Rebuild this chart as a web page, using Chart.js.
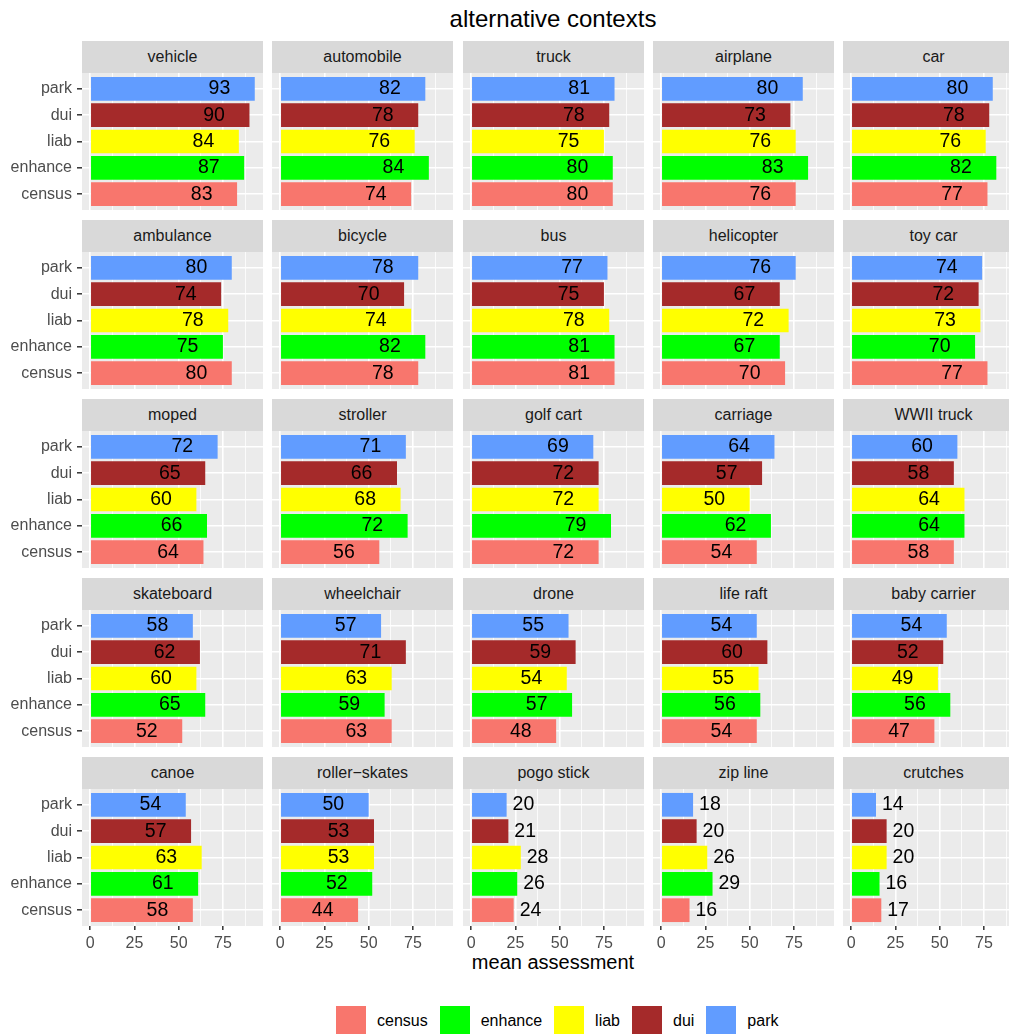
<!DOCTYPE html>
<html>
<head>
<meta charset="utf-8">
<title>alternative contexts</title>
<script src="https://cdn.jsdelivr.net/npm/chart.js@4.4.1/dist/chart.umd.min.js"></script>
<style>
body { margin: 0; background: #fff; }
#page { position: relative; width: 1009px; height: 1034px; overflow: hidden; font-family: "Liberation Sans", Arial, sans-serif; }
.strip { position: absolute; height: 32px; background: #D9D9D9; color: #1A1A1A; font-size: 16px; line-height: 32px; text-align: center; white-space: nowrap; }
canvas { position: absolute; }
#title { position: absolute; left: 82px; width: 942px; top: 7px; font-size: 24px; line-height: 24px; text-align: center; color: #000; }
#xtitle { position: absolute; left: 82px; width: 942px; top: 952px; font-size: 20px; line-height: 20px; text-align: center; color: #000; }
#legend { position: absolute; left: 336px; top: 1006px; height: 30px; display: flex; font-size: 16px; line-height: 30px; color: #000; }
#legend .key { width: 30px; height: 30px; margin-right: 11px; }
#legend .lab { margin-right: 12px; }
</style>
</head>
<body>
<div id="page">
  <div id="title">alternative contexts</div>
  <div id="xtitle">mean assessment</div>
  <div id="legend"></div>
</div>
<script>
// facet names, row by row
var panels = ['vehicle', 'automobile', 'truck', 'airplane', 'car',
              'ambulance', 'bicycle', 'bus', 'helicopter', 'toy car',
              'moped', 'stroller', 'golf cart', 'carriage', 'WWII truck',
              'skateboard', 'wheelchair', 'drone', 'life raft', 'baby carrier',
              'canoe', 'roller\u2212skates', 'pogo stick', 'zip line', 'crutches'];

// bottom to top inside a panel, same as the legend
var categories = ['census', 'enhance', 'liab', 'dui', 'park'];

var park    = [93, 82, 81, 80, 80,  80, 78, 77, 76, 74,  72, 71, 69, 64, 60,  58, 57, 55, 54, 54,  54, 50, 20, 18, 14];
var dui     = [90, 78, 78, 73, 78,  74, 70, 75, 67, 72,  65, 66, 72, 57, 58,  62, 71, 59, 60, 52,  57, 53, 21, 20, 20];
var liab    = [84, 76, 75, 76, 76,  78, 74, 78, 72, 73,  60, 68, 72, 50, 64,  60, 63, 54, 55, 49,  63, 53, 28, 26, 20];
var enhance = [87, 84, 80, 83, 82,  75, 82, 81, 67, 70,  66, 72, 79, 62, 64,  65, 59, 57, 56, 56,  61, 52, 26, 29, 16];
var census  = [83, 74, 80, 76, 77,  80, 78, 81, 70, 77,  64, 56, 72, 54, 58,  52, 63, 48, 54, 47,  58, 44, 24, 16, 17];

var xTicks = [0, 25, 50, 75];

var colours = ['#F8766D', '#00FF00', '#FFFF00', '#A52A2A', '#619CFF'];

Chart.defaults.font.family = '"Liberation Sans", Arial, sans-serif';

var page = document.getElementById('page');

// grey panel background
var panelBg = {
    id: 'panelBg',
    beforeDraw: function (chart) {
        var a = chart.chartArea;
        chart.ctx.save();
        chart.ctx.fillStyle = '#EBEBEB';
        chart.ctx.fillRect(a.left, a.top, a.right - a.left, a.bottom - a.top);
        chart.ctx.restore();
    }
};

// numbers on the bars (inside when long, outside when short)
var valueLabels = {
    id: 'valueLabels',
    afterDatasetsDraw: function (chart) {
        var ctx = chart.ctx;
        var xs = chart.scales.x, ys = chart.scales.y;
        ctx.save();
        ctx.font = '19.5px "Liberation Sans", Arial, sans-serif';
        ctx.fillStyle = '#000';
        ctx.textAlign = 'center';
        ctx.textBaseline = 'middle';
        chart.data.datasets[0].data.forEach(function (pt) {
            var pos = pt.x >= 30 ? pt.x - 20 : pt.x + 9.5;
            ctx.fillText(String(pt.x), xs.getPixelForValue(pos), ys.getPixelForValue(pt.y));
        });
        ctx.restore();
    }
};

function isMajor(v) {
    return xTicks.indexOf(v) !== -1;
}

function makePanel(p) {
    var col = p % 5, row = Math.floor(p / 5);
    var left = Math.round(82 + col * 190.3);
    var top = Math.round(41 + row * 179);
    var yAxisW = col === 0 ? 82 : 0;
    var xAxisH = row === 4 ? 26 : 0;

    var strip = document.createElement('div');
    strip.className = 'strip';
    strip.style.left = left + 'px';
    strip.style.top = top + 'px';
    strip.style.width = '181px';
    strip.textContent = panels[p];
    page.appendChild(strip);

    var cv = document.createElement('canvas');
    cv.width = 181 + yAxisW;
    cv.height = 137 + xAxisH;
    cv.style.left = (left - yAxisW) + 'px';
    cv.style.top = (top + 32) + 'px';
    cv.style.width = cv.width + 'px';
    cv.style.height = cv.height + 'px';
    page.appendChild(cv);

    var vals = [census[p], enhance[p], liab[p], dui[p], park[p]];

    return new Chart(cv, {
        type: 'bar',
        data: {
            datasets: [{
                data: vals.map(function (v, i) { return { x: v, y: i }; }),
                backgroundColor: colours,
                borderWidth: 0,
                barPercentage: 0.9,
                categoryPercentage: 1
            }]
        },
        options: {
            indexAxis: 'y',
            responsive: false,
            animation: false,
            devicePixelRatio: 1,
            layout: { padding: 0, autoPadding: false },
            plugins: { legend: { display: false }, tooltip: { enabled: false } },
            scales: {
                x: {
                    type: 'linear',
                    min: -4.65,
                    max: 97.65,
                    offset: false,
                    afterBuildTicks: function (scale) {
                        var t = [];
                        xTicks.forEach(function (v) { t.push({ value: v }); t.push({ value: v + 12.5 }); });
                        scale.ticks = t;
                    },
                    // keep the panel exactly where the strip is
                    afterFit: function (scale) {
                        scale.height = xAxisH;
                        scale.paddingLeft = 0;
                        scale.paddingRight = 0;
                    },
                    border: { display: false },
                    grid: {
                        color: '#FFFFFF',
                        lineWidth: function (c) { return isMajor(c.tick.value) ? 1.6 : 0.8; },
                        drawTicks: row === 4,
                        tickLength: 4,
                        tickWidth: 1.5,
                        tickColor: function (c) { return isMajor(c.tick.value) ? '#333333' : 'rgba(0,0,0,0)'; }
                    },
                    ticks: {
                        display: row === 4,
                        autoSkip: false,
                        maxRotation: 0,
                        padding: 4,
                        color: '#4D4D4D',
                        font: { size: 16 },
                        callback: function (v) { return isMajor(v) ? String(v) : ''; }
                    }
                },
                y: {
                    type: 'linear',
                    min: -0.6,
                    max: 4.6,
                    offset: false,
                    afterBuildTicks: function (scale) {
                        scale.ticks = categories.map(function (c, i) { return { value: i }; });
                    },
                    afterFit: function (scale) {
                        scale.width = yAxisW;
                        scale.paddingTop = 0;
                        scale.paddingBottom = 0;
                    },
                    border: { display: false },
                    grid: {
                        color: '#FFFFFF',
                        lineWidth: 1.6,
                        offset: false,
                        drawTicks: col === 0,
                        tickLength: 5,
                        tickWidth: 1.5,
                        tickColor: '#333333'
                    },
                    ticks: {
                        display: col === 0,
                        autoSkip: false,
                        padding: 5,
                        color: '#4D4D4D',
                        font: { size: 16 },
                        callback: function (v) { return categories[v]; }
                    }
                }
            }
        },
        plugins: [panelBg, valueLabels]
    });
}

for (var p = 0; p < panels.length; p++) {
    makePanel(p);
}

// legend below the facets
var legend = document.getElementById('legend');
categories.forEach(function (c, i) {
    var key = document.createElement('div');
    key.className = 'key';
    key.style.background = colours[i];
    var lab = document.createElement('div');
    lab.className = 'lab';
    lab.textContent = c;
    legend.appendChild(key);
    legend.appendChild(lab);
});
</script>
</body>
</html>
